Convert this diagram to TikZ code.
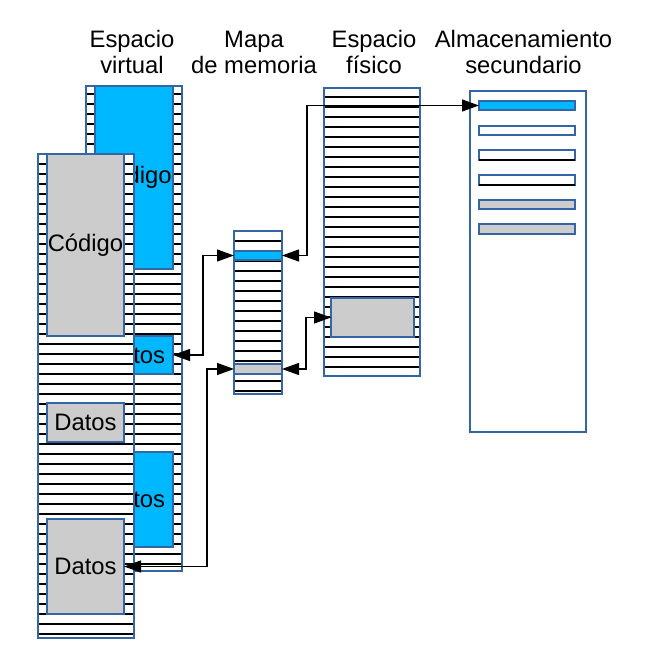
\documentclass[tikz,border=0pt]{standalone}
\usepackage{fontspec}
\setmainfont{Liberation Sans}
\usetikzlibrary{arrows.meta}
\definecolor{framecol}{HTML}{3465A4}
\definecolor{cyanfill}{HTML}{00B8FF}
\definecolor{grayfill}{HTML}{CCCCCC}
\tikzset{
  box/.style={draw=framecol, line width=1.2pt, inner sep=0pt, outer sep=0pt, anchor=north west},
  framebox/.style={box, fill=white},
  bluebox/.style={box, fill=cyanfill},
  graybox/.style={box, fill=grayfill},
  rowline/.style={black, line width=1.3pt},
  label/.style={font=\fontsize{23.8}{27}\selectfont},
  title/.style={font=\fontsize{23.8}{27}\selectfont, anchor=base, inner sep=0pt},
  link/.style={black, line width=1.3pt, {Triangle[length=17pt,width=12pt]}-{Triangle[length=17pt,width=12pt]}},
}
\begin{document}
\begin{tikzpicture}[x=1pt,y=-1pt]
\useasboundingbox (0,0) rectangle (662,671);

% titles
\node[title] (t1a) at (132,48) {Espacio};
\node[title] (t1b) at (132,74) {virtual};
\node[title] (t2a) at (254,48) {Mapa};
\node[title] (t2b) at (254,74) {de memoria};
\node[title] (t3a) at (374,48) {Espacio};
\node[title] (t3b) at (374,74) {físico};
\node[title] (t4a) at (523.5,48) {Almacenamiento};
\node[title] (t4b) at (523.5,74) {secundario};

% back virtual space
\node[framebox, minimum width=96, minimum height=485] (vback) at (86,86) {};
\foreach \y in {94,104,...,564} \draw[rowline] (86,\y) -- (182,\y);
\node[bluebox, minimum width=78, minimum height=183] (vbcode) at (95,86) {};
\node[label] (vbcodet) at (vbcode.center) {Código};
\node[bluebox, minimum width=78, minimum height=38] (vbdatos) at (95,336) {};
\node[label] (vbdatost) at (vbdatos.center) {Datos};
\node[bluebox, minimum width=78, minimum height=95] (vbdatosb) at (95,452) {};
\node[label] (vbdatosbt) at (vbdatosb.center) {Datos};
\draw[draw=framecol, line width=1.2pt] (vback.north west) rectangle (vback.south east);

% front virtual space
\node[framebox, minimum width=96, minimum height=484] (vfront) at (38,154) {};
\foreach \y in {164,174,...,634} \draw[rowline] (38,\y) -- (134,\y);
\node[graybox, minimum width=77, minimum height=182] (vfcode) at (47,154) {};
\node[label] (vfcodet) at (vfcode.center) {Código};
\node[graybox, minimum width=77, minimum height=39] (vfdatos) at (47,403) {};
\node[label] (vfdatost) at (vfdatos.center) {Datos};
\node[graybox, minimum width=77, minimum height=95] (vfdatosb) at (47,519) {};
\node[label] (vfdatosbt) at (vfdatosb.center) {Datos};
\draw[draw=framecol, line width=1.2pt] (vfront.north west) rectangle (vfront.south east);

% memory map
\node[framebox, minimum width=48, minimum height=163] (map) at (234,231) {};
\foreach \y in {241,251,...,391} \draw[rowline] (234,\y) -- (282,\y);
\node[bluebox, minimum width=48, minimum height=9] (mapblue) at (234,251) {};
\node[graybox, minimum width=48, minimum height=10] (mapgray) at (234,364) {};
\draw[draw=framecol, line width=1.2pt] (map.north west) rectangle (map.south east);

% physical space
\node[framebox, minimum width=96, minimum height=288] (phys) at (324,88) {};
\foreach \y in {97,107,...,367} \draw[rowline] (324,\y) -- (420,\y);
\node[graybox, minimum width=83, minimum height=39] (physgray) at (331,298) {};
\draw[draw=framecol, line width=1.2pt] (phys.north west) rectangle (phys.south east);

% secondary storage
\node[framebox, minimum width=116, minimum height=341] (sec) at (470,91) {};
\node[bluebox, minimum width=96, minimum height=9] (sec1) at (479,101) {};
\node[framebox, minimum width=96, minimum height=9] (sec2) at (479,126) {};
\node[framebox, minimum width=96, minimum height=10] (sec3) at (479,150) {};
\node[framebox, minimum width=96, minimum height=10] (sec4) at (479,175) {};
\draw[rowline] (sec3.south west) -- (sec3.south east);
\draw[rowline] (sec4.south west) -- (sec4.south east);
\node[graybox, minimum width=96, minimum height=9] (sec5) at (479,200) {};
\node[graybox, minimum width=96, minimum height=10] (sec6) at (479,224) {};

% connectors
\draw[link] (mapblue.east) -- ++(25,0) |- (sec1.west);
\draw[link] (vbdatos.east) -- ++(30,0) |- (mapblue.west);
\draw[link] (mapgray.east) -- ++(24,0) |- (physgray.west);
\draw[link] (vfdatosb.east) -- ++(83,0) |- (mapgray.west);
\end{tikzpicture}
\end{document}
